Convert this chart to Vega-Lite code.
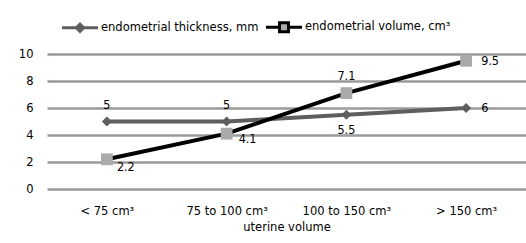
{
  "$schema": "https://vega.github.io/schema/vega-lite/v6.json",
  "width": 479,
  "height": 135,
  "autosize": {"type": "none"},
  "padding": {"left": 47, "top": 54, "right": 0, "bottom": 54},
  "background": "white",
  "config": {
    "view": {"stroke": null},
    "font": "DejaVu Sans",
    "axis": {"labelFont": "DejaVu Sans", "titleFont": "DejaVu Sans", "labelColor": "#000", "titleColor": "#000"},
    "legend": {"labelFont": "DejaVu Sans", "labelColor": "#000"}
  },
  "data": {
    "values": [
      {"series": "endometrial thickness, mm", "cat": "< 75 cm³", "value": 5, "lab": "5", "pos": "above"},
      {"series": "endometrial thickness, mm", "cat": "75 to 100 cm³", "value": 5, "lab": "5", "pos": "above"},
      {"series": "endometrial thickness, mm", "cat": "100 to 150 cm³", "value": 5.5, "lab": "5.5", "pos": "below"},
      {"series": "endometrial thickness, mm", "cat": "> 150 cm³", "value": 6, "lab": "6", "pos": "right"},
      {"series": "endometrial volume, cm³", "cat": "< 75 cm³", "value": 2.2, "lab": "2.2", "pos": "belowright"},
      {"series": "endometrial volume, cm³", "cat": "75 to 100 cm³", "value": 4.1, "lab": "4.1", "pos": "belowright"},
      {"series": "endometrial volume, cm³", "cat": "100 to 150 cm³", "value": 7.1, "lab": "7.1", "pos": "above"},
      {"series": "endometrial volume, cm³", "cat": "> 150 cm³", "value": 9.5, "lab": "9.5", "pos": "right"}
    ]
  },
  "encoding": {
    "x": {
      "field": "cat", "type": "ordinal", "sort": null,
      "scale": {"type": "point", "padding": 0.5},
      "axis": {"title": "uterine volume", "labelAngle": 0, "domain": false, "ticks": false, "labelPadding": 16, "labelFontSize": 11.5, "titleFontSize": 11.5, "titleFontWeight": "normal", "titlePadding": 5, "grid": false}
    },
    "y": {
      "field": "value", "type": "quantitative",
      "scale": {"domain": [0, 10]},
      "axis": {"title": null, "values": [0, 2, 4, 6, 8, 10], "domain": false, "ticks": false, "labelPadding": 14, "labelFontSize": 11.5, "gridColor": "#9a9a9a", "gridWidth": 2.5}
    }
  },
  "layer": [
    {
      "mark": {"type": "line", "strokeWidth": 4},
      "encoding": {
        "stroke": {
          "field": "series", "type": "nominal",
          "scale": {"domain": ["endometrial thickness, mm", "endometrial volume, cm³"], "range": ["#5e5e5e", "#000000"]},
          "legend": {
            "title": null, "orient": "none", "legendX": 13, "legendY": -47, "direction": "horizontal",
            "symbolSize": 1300, "symbolStrokeWidth": 3, "labelFontSize": 11.5, "labelOffset": 1, "columnPadding": 0,
            "symbolType": "M-1,0H1M-0.2,0L0,-0.2L0.2,0L0,0.2Z",
            "encode": {
              "symbols": {
                "update": {
                  "fill": {"signal": "datum.value === 'endometrial thickness, mm' ? '#5e5e5e' : '#aaaaaa'"},
                  "shape": {"signal": "datum.value === 'endometrial thickness, mm' ? 'M-1,0H1M-0.2,0L0,-0.2L0.2,0L0,0.2Z' : 'M-1,0H-0.25M0.25,0H1M-0.25,-0.25H0.25V0.25H-0.25Z'"}
                }
              }
            }
          }
        }
      }
    },
    {
      "transform": [{"filter": "datum.series === 'endometrial thickness, mm'"}],
      "mark": {"type": "point", "shape": "diamond", "filled": true, "size": 100, "color": "#5e5e5e", "opacity": 1}
    },
    {
      "transform": [{"filter": "datum.series === 'endometrial volume, cm³'"}],
      "mark": {"type": "point", "shape": "square", "filled": true, "size": 140, "color": "#aaaaaa", "opacity": 1}
    },
    {
      "transform": [{"filter": "datum.pos === 'above'"}],
      "mark": {"type": "text", "dy": -17, "fontSize": 12.5, "font": "DejaVu Sans Condensed", "color": "#000"},
      "encoding": {"text": {"field": "lab"}}
    },
    {
      "transform": [{"filter": "datum.pos === 'below'"}],
      "mark": {"type": "text", "dy": 15, "fontSize": 12.5, "font": "DejaVu Sans Condensed", "color": "#000"},
      "encoding": {"text": {"field": "lab"}}
    },
    {
      "transform": [{"filter": "datum.series === 'endometrial volume, cm³' && datum.value < 3"}],
      "mark": {"type": "text", "dy": 8, "dx": 10, "align": "left", "fontSize": 12.5, "font": "DejaVu Sans Condensed", "color": "#000"},
      "encoding": {"text": {"field": "lab"}}
    },
    {
      "transform": [{"filter": "datum.series === 'endometrial volume, cm³' && datum.value > 4 && datum.value < 5"}],
      "mark": {"type": "text", "dy": 5, "dx": 12, "align": "left", "fontSize": 12.5, "font": "DejaVu Sans Condensed", "color": "#000"},
      "encoding": {"text": {"field": "lab"}}
    },
    {
      "transform": [{"filter": "datum.pos === 'right'"}],
      "mark": {"type": "text", "dx": 15, "align": "left", "fontSize": 12.5, "font": "DejaVu Sans Condensed", "color": "#000"},
      "encoding": {"text": {"field": "lab"}}
    }
  ]
}
